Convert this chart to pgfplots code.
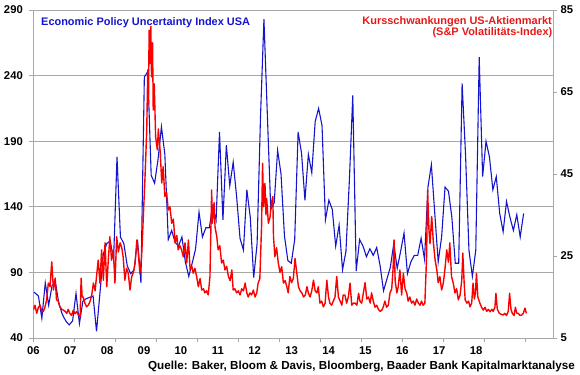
\documentclass[border=0pt]{standalone}
\usepackage{pgfplots}
\pgfplotsset{compat=1.18}
\usepackage{fontspec}
\setmainfont{Liberation Sans}
\definecolor{epublue}{RGB}{20,20,205}
\definecolor{vixred}{RGB}{250,0,0}
\definecolor{titlered}{RGB}{230,25,25}
\definecolor{gridgray}{RGB}{168,168,168}
\begin{document}
\begin{tikzpicture}
\useasboundingbox (0,0) rectangle (580bp,375bp);
\pgfplotsset{
  common/.style={
    at={(33.3bp,37bp)}, anchor=south west,
    scale only axis, width=519.7bp, height=328bp,
    xmin=0, xmax=152.1,
    tick align=outside,
    major tick length=4bp,
    every tick/.style={gridgray, line width=0.8pt},
    axis line style={gridgray, line width=0.8pt},
    /pgf/number format/assume math mode=true,
    tick label style={font=\fontsize{11.3}{13}\selectfont\bfseries, text=black},
  }
}
\begin{axis}[common,
  ymin=40, ymax=290, ytick={40,90,140,190,240,290},
  ytick pos=left, xtick pos=bottom,
  yticklabel style={xshift=-3bp},
  xtick={0,12,...,144}, xticklabels={},
  extra x ticks={0,10.8,21.6,32.4,43.2,54,64.8,75.6,86.4,97.2,108,118.8,129.6},
  extra x tick labels={06,07,08,09,10,11,12,13,14,15,16,17,18},
  extra x tick style={major tick length=0pt, grid=none, xticklabel style={yshift=-5bp}},
  ymajorgrids, grid style={gridgray, line width=0.8pt},
  clip=true,
]
\addplot[epublue, line width=1.1pt] coordinates {
(0.2,75)(1.5,72)(2.5,55)(3.5,82)(4.5,65)(5.5,80)(6.5,82)(7.5,66)(8.5,58)(9.5,53)(10.5,50)(11.5,53)(12.5,74)(13.5,51)(14.5,68)(15.5,70)(16.5,71)(17.5,72)(18.5,45)(19.5,74)(20.5,104)(21.5,112)(22.5,114)(23.5,100)(24.5,178)(25.5,117)(26.5,112)(27.5,95)(28.5,89)(29.5,92)(30.5,115)(31.5,82)(32.5,239)(33.5,243)(34.5,164)(35.5,158)(36.5,176)(37.5,201)(38.5,180)(39.5,115)(40.5,122)(41.5,113)(42.5,110)(43.5,117)(44.5,98)(45.5,87)(46.5,97)(47.5,108)(48.5,136)(49.5,117)(50.5,124)(51.5,124)(52.5,140)(53.5,130)(54.5,197)(55.5,130)(56.5,187)(57.5,156)(58.5,174)(59.5,148)(60.5,116)(61.5,107)(62.5,153)(63.5,132)(64.5,86)(65.5,112)(66.5,209)(67.5,283)(68.5,210)(69.5,138)(70.5,143)(71.5,183)(72.5,165)(73.5,118)(74.5,99)(75.5,97)(76.5,115)(77.5,197)(78.5,181)(79.5,145)(80.5,180)(81.5,166)(82.5,205)(83.5,215)(84.5,202)(85.5,130)(86.5,145)(87.5,138)(88.5,110)(89.5,126)(90.5,92)(91.5,106)(92.5,160)(93.5,225)(94.5,91)(95.5,115)(96.5,110)(97.5,102)(98.5,108)(99.5,103)(100.5,109)(101.5,95)(102.5,76)(103.5,85)(104.5,94)(105.5,112)(106.5,93)(107.5,106)(108.5,120)(109.5,89)(110.5,98)(111.5,103)(112.5,103)(113.5,116)(114.5,100)(115.5,155)(116.5,172)(117.5,135)(118.5,98)(119.5,117)(120.5,155)(121.5,152)(122.5,132)(123.5,97)(124.5,97)(125.5,234)(126.5,180)(127.5,107)(128.5,87)(129.5,107)(130.5,254)(131.5,163)(132.5,190)(133.5,178)(134.5,153)(135.5,163)(136.5,135)(137.5,121)(138.5,144)(139.5,132)(140.5,122)(141.5,134)(142.5,117)(143.5,135)
};
\end{axis}
\begin{axis}[common,
  ymin=5, ymax=85, ytick={5,25,45,65,85},
  hide x axis, axis y line*=right,
]
\addplot[vixred, line width=1.4pt, line join=round] coordinates {
(0,11.8)(0.5,13)(1.0,11)(1.5,12.5)(2.0,13)(2.5,11.5)(2.9,11.4)(3.4,12.5)(3.9,14.3)(4.4,18.4)(4.9,17.5)(5.4,23.6)(5.9,16.7)(6.4,19.6)(6.8,14.3)(7.3,14)(7.8,12.6)(8.3,12)(8.8,11.8)(9.3,11.5)(9.8,11)(10.2,12)(10.7,11)(11.2,10.5)(11.7,11.8)(12.2,10.9)(12.7,11.5)(13.2,10.6)(13.7,10.2)(14.0,19.6)(14.3,15)(14.6,15)(15.1,13.5)(15.6,12.6)(16.1,13)(16.6,13.9)(17.1,15.5)(17.6,18.4)(18.1,16.5)(18.5,20)(19.0,24)(19.5,18.4)(20.0,26.5)(20.5,19.1)(21.0,28.2)(21.5,17.5)(21.9,23.3)(22.4,29.7)(22.9,24)(23.4,26.5)(23.9,18.4)(24.4,29.7)(24.9,26)(25.4,28.2)(25.9,27)(26.3,24.8)(26.8,19.1)(27.3,22)(27.8,20.8)(28.3,16.7)(28.8,20)(29.3,21)(29.8,23.3)(30.3,28.9)(30.7,26)(31.2,20.8)(31.7,24.8)(32.2,34.6)(32.7,44.3)(33.2,55.7)(33.5,70.4)(33.7,62)(33.9,80.1)(34.1,72)(34.4,81)(34.6,68.7)(34.9,77)(35.1,60.6)(35.4,67)(35.8,54)(36.3,50.9)(36.6,56)(37.1,50.9)(37.6,42.8)(38.0,46.8)(38.5,39.5)(39.0,40.5)(39.5,36.2)(40.0,37)(40.5,33)(41.0,34)(41.5,28.2)(42.0,30)(42.4,26.5)(42.9,27.5)(43.4,26.5)(43.9,24.8)(44.4,28.2)(44.9,23.3)(45.4,28.9)(45.9,21.6)(46.4,22.5)(46.8,20.8)(47.3,22)(47.8,20)(48.3,17.5)(48.8,19.5)(49.3,16.7)(49.8,17)(50.2,16)(50.7,16.5)(51.2,15.5)(51.7,20)(52.2,41.1)(52.4,33)(52.6,34.6)(52.9,38)(53.2,32)(53.7,29.7)(54.1,26.5)(54.6,27.5)(55.1,23.3)(55.6,24)(56.1,21.6)(56.6,22.5)(57.1,20)(57.6,19)(58.1,21.6)(58.5,16.7)(59.0,17)(59.5,16)(60.0,16.5)(60.5,15.5)(61.0,17)(61.5,16.5)(62.0,18.4)(62.5,16)(62.9,15)(63.4,16)(63.9,15.5)(64.4,16.7)(64.9,15)(65.4,16)(65.8,18.4)(66.3,19.5)(66.8,32.1)(67.1,47.6)(67.4,37)(67.8,42.7)(68.1,35)(68.3,39)(68.8,33)(69.3,34.6)(69.7,38)(70.1,39.5)(70.3,29.7)(70.7,24.8)(71.2,27)(71.7,23.3)(72.2,21)(72.7,22.4)(73.2,18.4)(73.7,19)(74.2,17.5)(74.6,16)(75.1,20)(75.6,18.5)(76.1,19.5)(76.6,24.4)(77.1,21)(77.6,17.5)(78.1,16.5)(78.6,16)(79.1,15)(79.6,15.5)(80.1,17.5)(80.5,16)(81.0,15)(81.5,16.5)(82.0,19.1)(82.5,16.5)(83.0,16)(83.4,17.5)(83.9,13.5)(84.4,14)(84.9,12.6)(85.4,13.5)(85.9,19.1)(86.4,15)(86.8,13.5)(87.3,13)(87.8,14)(88.3,15)(88.8,20)(89.3,15)(89.8,14)(90.3,13)(90.7,15.5)(91.2,15.5)(91.7,13.5)(92.2,15)(92.7,18.4)(93.2,13)(93.7,13.5)(94.2,13.5)(94.7,13)(95.2,15.9)(95.6,14)(96.1,13.5)(96.6,16)(97.1,18.5)(97.6,14.5)(98.1,15)(98.6,13.5)(99.0,16)(99.5,14)(100.0,12.5)(100.5,13)(101.0,12)(101.5,11.5)(102.0,11.8)(102.4,12.5)(102.9,14)(103.4,12.5)(103.9,13)(104.4,16)(104.9,17)(105.3,22)(105.6,28.9)(105.9,19)(106.4,16)(106.8,17.5)(107.3,21.6)(107.8,15.5)(108.3,20.8)(108.8,17)(109.3,16)(109.7,14)(110.2,15)(110.7,13.5)(111.2,14)(111.7,13)(112.2,14.5)(112.7,13.5)(113.2,13)(113.6,14)(114.1,13)(114.6,13.5)(115.1,24.8)(115.4,41.1)(115.8,31.3)(116.1,28)(116.6,34.6)(117.1,28.2)(117.6,24)(118.1,21.6)(118.5,18.5)(119.0,20)(119.5,16.7)(120.0,18.4)(120.5,22)(121.0,26.5)(121.5,23.5)(121.9,28.2)(122.4,20)(122.9,18.4)(123.4,16)(123.9,17)(124.4,14.3)(124.9,15.5)(125.4,19.1)(125.7,25.7)(126.1,18.4)(126.4,14.3)(126.9,13.5)(127.4,14)(127.8,12.6)(128.3,13.5)(128.7,18.4)(129.1,14.5)(129.4,16)(129.7,20.8)(130.1,15)(130.7,13.5)(131.2,12.5)(131.7,11.8)(132.2,12.5)(132.7,11.5)(133.2,12)(133.7,11.4)(134.2,12)(134.6,11.5)(135.1,12.5)(135.4,15.9)(135.8,12)(136.4,11)(136.9,10.8)(137.5,10.6)(138.0,11)(138.5,10.5)(139.0,11.5)(139.4,15.9)(139.8,12)(140.2,11)(140.7,10.5)(141.1,12.5)(141.5,11)(142.0,11)(142.4,10.5)(142.9,10.6)(143.4,11)(143.9,12.3)(144.3,11)
};
\end{axis}
\node[anchor=base west, text=epublue, font=\fontsize{11}{13}\selectfont\bfseries, inner sep=0pt] at (41bp,349.7bp) {Economic Policy Uncertainty Index USA};
\node[anchor=base east, text=titlered, font=\fontsize{11}{13}\selectfont\bfseries, inner sep=0pt] at (552bp,350.5bp) {Kursschwankungen US-Aktienmarkt};
\node[anchor=base east, text=titlered, font=\fontsize{11}{13}\selectfont\bfseries, inner sep=0pt] at (552.5bp,339bp) {(S\&P Volatilitäts-Index)};
\node[anchor=base east, font=\fontsize{11.7}{13}\selectfont\bfseries, inner sep=0pt] at (575bp,5.5bp) {Quelle: Baker, Bloom \& Davis, Bloomberg, Baader Bank Kapitalmarktanalyse};
\end{tikzpicture}
\end{document}
